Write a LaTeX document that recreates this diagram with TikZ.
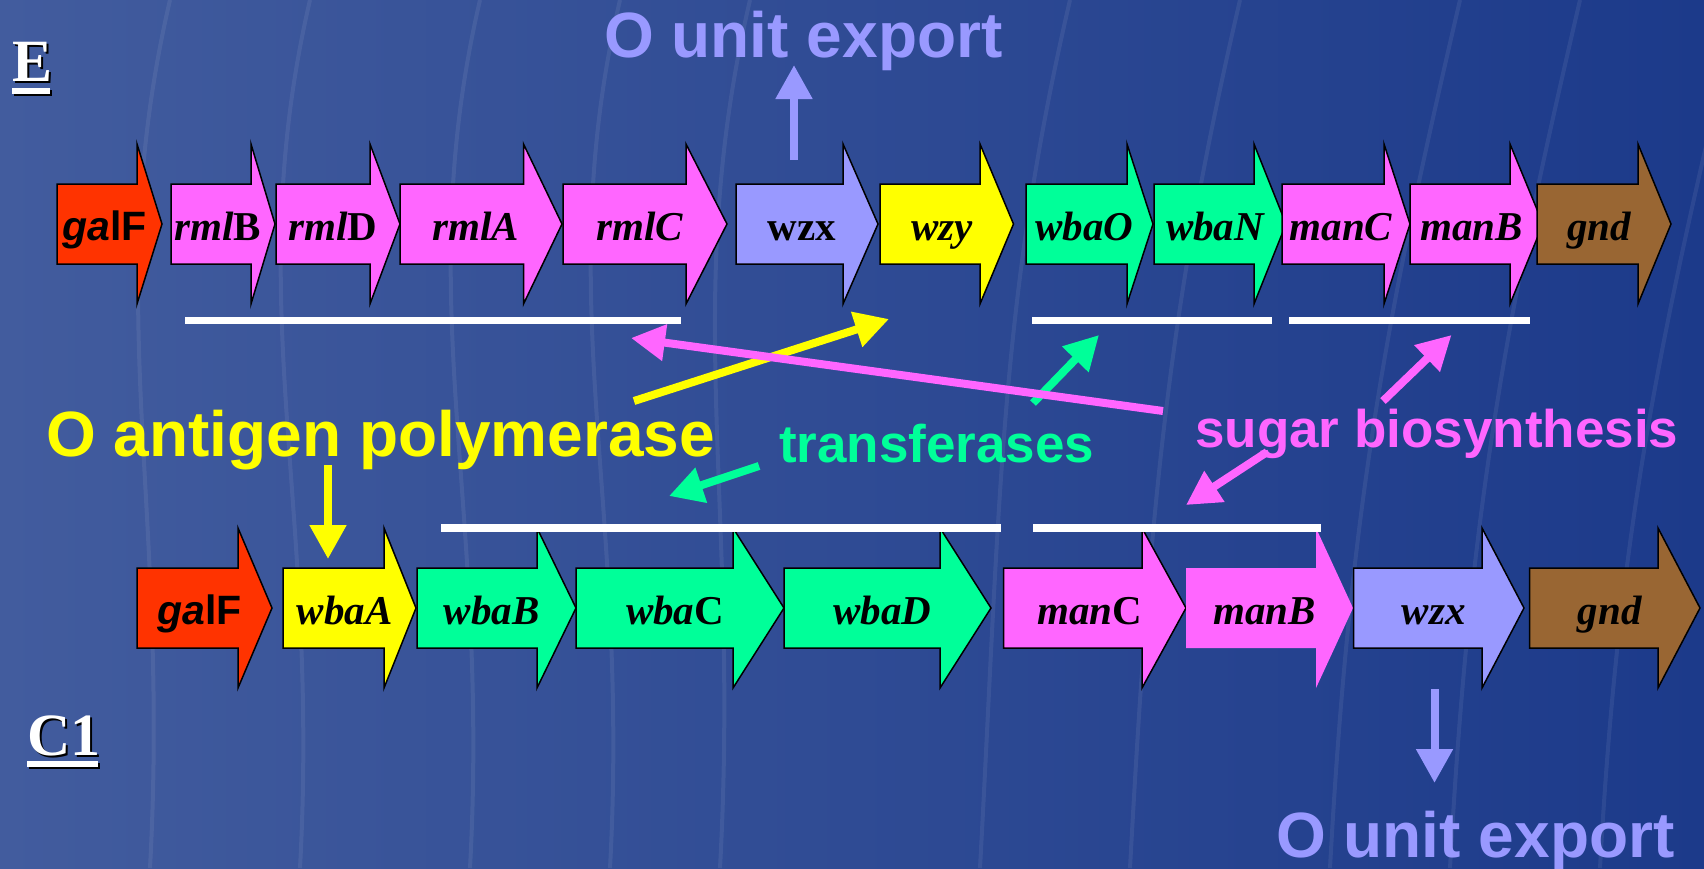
\documentclass[tikz,border=0pt]{standalone}
\usepackage{fontspec}
\setmainfont{Liberation Serif}
\newfontfamily\arialf{Liberation Sans}
\usetikzlibrary{arrows.meta}

\definecolor{bgleft}{RGB}{66,92,158}
\definecolor{bgright}{RGB}{28,58,138}
\definecolor{genered}{RGB}{255,51,0}
\definecolor{genepink}{RGB}{255,102,255}
\definecolor{genelav}{RGB}{153,153,255}
\definecolor{geneyel}{RGB}{255,255,0}
\definecolor{genegrn}{RGB}{0,255,153}
\definecolor{genebrn}{RGB}{153,102,51}

% gene arrow: #1 node name, #2 fill options, #3 left x, #4 head start x,
% #5 tip x, #6 centre y, #7 label
\newcommand\gene[7]{%
  \draw[genebox,#2] (#3,#6-40) -- (#4,#6-40) -- (#4,#6-80) -- (#5,#6)
    -- (#4,#6+80) -- (#4,#6+40) -- (#3,#6+40) -- cycle;
  \node[genelabel] (#1) at ({(#3+#5)/2-5},#6+16) {#7};
}

\begin{document}
\begin{tikzpicture}[x=1pt,y=-1pt,
  genebox/.style={draw=black,line width=1.5pt,line join=miter},
  genelabel/.style={font=\fontsize{41}{41}\selectfont\bfseries\itshape,
    anchor=base,inner sep=0pt,text=black},
  bigtext/.style={font=\arialf\bfseries\fontsize{64}{64}\selectfont,
    anchor=base west,inner sep=0pt},
  midtext/.style={font=\arialf\bfseries\fontsize{53}{53}\selectfont,
    anchor=base west,inner sep=0pt},
  strain/.style={font=\bfseries\fontsize{60}{60}\selectfont,
    anchor=base west,inner sep=0pt},
  ann/.style={line width=8pt,-{Triangle[width=35pt,length=34pt]}},
  streak/.style={white,opacity=0.07,line width=4pt}]

% background
\useasboundingbox (0,0) rectangle (1704,868);
\shade[left color=bgleft,right color=bgright] (0,0) rectangle (1704,868);
\foreach \a/\b in {150/110,300/250,470/420,610/560,720/690,980/1010,1130/1180,1330/1400,1450/1520,1600/1680}
  \draw[streak] (\a,868) .. controls (\a+20,500) and (\b-10,300) .. (\b+60,0);

% strain labels with shadow
\node[strain,text=black] (Eshadow) at (14,83) {E};
\fill[black] (14,90) rectangle (52,96);
\node[strain,text=white] (Elabel) at (12,81) {E};
\fill[white] (12,88) rectangle (50,94);
\node[strain,text=black] (Cshadow) at (29,757) {C1};
\fill[black] (29,763) rectangle (100,769);
\node[strain,text=white] (Clabel) at (27,755) {C1};
\fill[white] (27,761) rectangle (98,767);

% upper cluster
\gene{galFE}{fill=genered}{57}{137}{162}{224}{{\arialf\textit{ga}\textup{lF}}}
\gene{rmlB}{fill=genepink}{171}{251}{275}{224}{rml\textup{B}}
\gene{rmlD}{fill=genepink}{276}{370}{400}{224}{rml\textup{D}}
\gene{rmlA}{fill=genepink}{400}{523.5}{562}{224}{rmlA}
\gene{rmlC}{fill=genepink}{563}{686}{727}{224}{rmlC}
\gene{wzxE}{fill=genelav}{736}{843}{878}{224}{\textup{wzx}}
\gene{wzy}{fill=geneyel}{880}{980}{1013.5}{224}{wzy}
\gene{wbaO}{fill=genegrn}{1026}{1127}{1153}{224}{wbaO}
\gene{wbaN}{fill=genegrn}{1154}{1254}{1286}{224}{wbaN}
\gene{manCE}{fill=genepink}{1282}{1384}{1410}{224}{manC}
\gene{manBE}{fill=genepink}{1410}{1510}{1543}{224}{manB}
\gene{gndE}{fill=genebrn}{1537}{1638}{1671}{224}{gnd}

% lower cluster
\gene{galFC}{fill=genered}{137}{238}{272}{608}{{\arialf\textit{ga}\textup{lF}}}
\gene{wbaA}{fill=geneyel}{283}{384}{416}{608}{wbaA}
\gene{wbaB}{fill=genegrn}{417}{537}{576}{608}{wbaB}
\gene{wbaC}{fill=genegrn}{576}{733}{784}{608}{wba\textup{C}}
\gene{wbaD}{fill=genegrn}{784}{940}{991}{608}{wbaD}
\gene{manCC}{fill=genepink}{1003.5}{1142}{1186}{608}{man\textup{C}}
\gene{manBC}{fill=genepink,draw=none}{1186}{1316}{1353}{608}{manB}
\gene{wzxC}{fill=genelav}{1353.5}{1482}{1524}{608}{wzx}
\gene{gndC}{fill=genebrn}{1529.5}{1658}{1700}{608}{gnd}

% grouping bars
\fill[white] (185,317) rectangle (681,324);
\fill[white] (1032,317) rectangle (1272,324);
\fill[white] (1289,317) rectangle (1530,324);
\fill[white] (441,524) rectangle (1001,532);
\fill[white] (1033,524) rectangle (1321,532);

% labels
\node[bigtext,text=genelav] (exportTop) at (604,57) {O unit export};
\node[bigtext,text=geneyel] (polymerase) at (46,456) {O antigen polymerase};
\node[midtext,text=genegrn] (transferases) at (779,462) {transferases};
\node[midtext,text=genepink] (sugar) at (1195,447) {sugar biosynthesis};
\node[bigtext,text=genelav] (exportBot) at (1276,857) {O unit export};

% connector end points
\coordinate (expUpTail) at (794,160);
\coordinate (expUpTip) at (794,65);
\coordinate (expDnTail) at (1434.5,689);
\coordinate (expDnTip) at (1434.5,783);
\coordinate (polDnTail) at (328,465);
\coordinate (polDnTip) at (328,559);
\coordinate (polUpTail) at (634,401);
\coordinate (polUpTip) at (889,319);
\coordinate (sugLongTail) at (1163,411);
\coordinate (sugLongTip) at (631,338);
\coordinate (trUpTail) at (1033,403);
\coordinate (trUpTip) at (1099,335);
\coordinate (sugUpTail) at (1383,401);
\coordinate (sugUpTip) at (1451.5,335);
\coordinate (trDnTail) at (759,466);
\coordinate (trDnTip) at (669,496);
\coordinate (sugDnTail) at (1267,452);
\coordinate (sugDnTip) at (1186,505);

% connectors
\draw[ann,genelav] (expUpTail) -- (expUpTip);
\draw[ann,genelav] (expDnTail) -- (expDnTip);
\draw[ann,geneyel] (polDnTail) -- (polDnTip);
\draw[ann,geneyel] (polUpTail) -- (polUpTip);
\draw[ann,genegrn] (trUpTail) -- (trUpTip);
\draw[ann,genegrn] (trDnTail) -- (trDnTip);
\draw[ann,genepink] (sugUpTail) -- (sugUpTip);
\draw[ann,genepink] (sugDnTail) -- (sugDnTip);
\draw[ann,genepink] (sugLongTail) -- (sugLongTip);
\end{tikzpicture}
\end{document}
